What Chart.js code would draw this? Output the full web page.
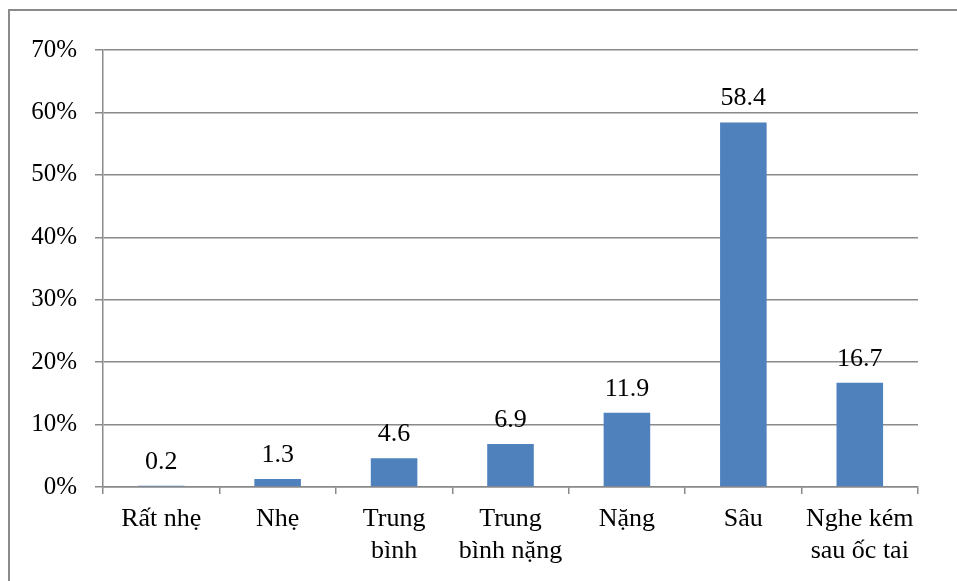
<!DOCTYPE html>
<html>
<head>
<meta charset="utf-8">
<script src="https://cdn.jsdelivr.net/npm/chart.js@4/dist/chart.umd.min.js"></script>
<style>
  html, body { margin: 0; padding: 0; background: #ffffff; }
  #wrap { position: relative; width: 957px; height: 581px; }
  .fontprobe { position: absolute; left: -9999px; top: 0; font-family: "Liberation Serif", "Times New Roman", serif; font-size: 26px; }
</style>
</head>
<body>
<div class="fontprobe">Rất nhẹ 0123456789%</div>
<div id="wrap"><canvas id="chart" width="957" height="581"></canvas></div>
<script>
// Mức độ nghe kém (%)
const categories = [
  ['Rất nhẹ'],
  ['Nhẹ'],
  ['Trung', 'bình'],
  ['Trung', 'bình nặng'],
  ['Nặng'],
  ['Sâu'],
  ['Nghe kém', 'sau ốc tai']
];
const percentages = [0.2, 1.3, 4.6, 6.9, 11.9, 58.4, 16.7];
const yTicks = [0, 10, 20, 30, 40, 50, 60, 70];

const serif = "'Liberation Serif', 'Times New Roman', serif";
const gridGray = '#8a8a8a';

// Frame line along the top and left edge of the figure
const framePlugin = {
  id: 'frame',
  beforeDraw(chart) {
    const ctx = chart.ctx;
    ctx.save();
    ctx.strokeStyle = '#8a8a8a';
    ctx.lineWidth = 2;
    ctx.beginPath();
    ctx.moveTo(9, 581);
    ctx.lineTo(9, 10);
    ctx.lineTo(957, 10);
    ctx.stroke();
    ctx.restore();
  }
};

// Value printed above each bar
const valueLabels = {
  id: 'valueLabels',
  afterDatasetsDraw(chart) {
    const ctx = chart.ctx;
    const meta = chart.getDatasetMeta(0);
    const data = chart.data.datasets[0].data;
    ctx.save();
    ctx.font = '26px ' + serif;
    ctx.fillStyle = '#000000';
    ctx.textAlign = 'center';
    ctx.textBaseline = 'alphabetic';
    meta.data.forEach((bar, i) => {
      ctx.fillText(data[i].toFixed(1), bar.x, bar.y - 17);
    });
    ctx.restore();
  }
};

function drawChart() {
  new Chart(document.getElementById('chart'), {
    type: 'bar',
    data: {
      labels: categories,
      datasets: [{
        data: percentages,
        backgroundColor: '#4F81BD',
        borderWidth: 0,
        barPercentage: 1.0,
        categoryPercentage: 0.4
      }]
    },
    options: {
      responsive: false,
      animation: false,
      devicePixelRatio: 1,
      layout: { padding: { top: 50, right: 39, left: 0, bottom: 0 } },
      plugins: {
        legend: { display: false },
        tooltip: { enabled: false }
      },
      scales: {
        y: {
          min: 0,
          max: 70,
          afterFit(scale) { scale.width = 103; },
          afterBuildTicks(scale) { scale.ticks = yTicks.map(v => ({ value: v })); },
          ticks: {
            font: { family: serif, size: 25 },
            color: '#000000',
            padding: 18,
            callback: v => v + '%'
          },
          grid: {
            color: gridGray,
            lineWidth: 1.5,
            tickLength: 8,
            drawTicks: true
          },
          border: { color: gridGray, width: 1.5 }
        },
        x: {
          afterFit(scale) { scale.height = 94; },
          ticks: {
            font: { family: serif, size: 26, lineHeight: 1.2 },
            color: '#000000',
            padding: 10,
            maxRotation: 0,
            autoSkip: false
          },
          grid: {
            offset: true,
            drawOnChartArea: false,
            color: gridGray,
            lineWidth: 1.5,
            tickLength: 7
          },
          border: { color: gridGray, width: 1.5 }
        }
      }
    },
    plugins: [framePlugin, valueLabels]
  });
}

if (document.fonts && document.fonts.load) {
  document.fonts.load("26px 'Liberation Serif'").then(drawChart, drawChart);
} else {
  drawChart();
}
</script>
</body>
</html>
